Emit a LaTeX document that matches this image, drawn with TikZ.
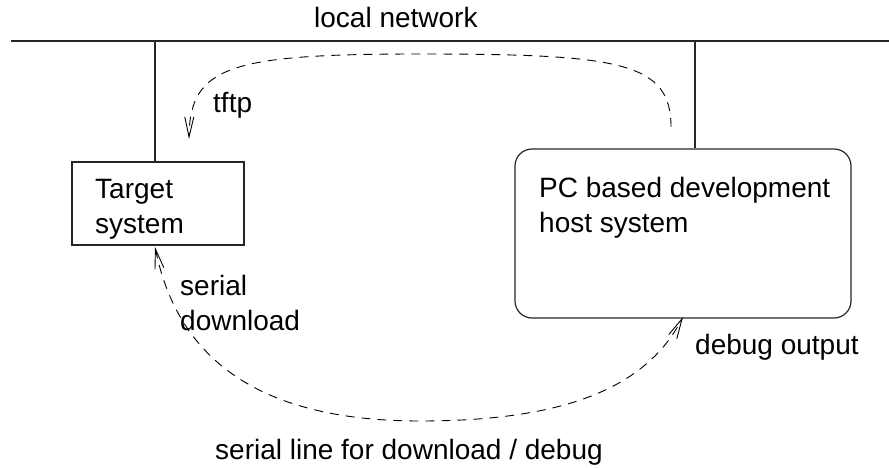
\documentclass[tikz,border=0pt]{standalone}
\usepackage{fontspec}
\setmainfont{Liberation Sans}
\usetikzlibrary{arrows.meta}
\begin{document}
\begin{tikzpicture}[x=1pt,y=-1pt,
  wire/.style={line width=1.2pt, draw=black!85},
  box/.style={draw=black!85, line width=1.2pt, inner sep=0pt},
  flow/.style={line width=0.9pt, dash pattern=on 9pt off 7pt},
  lbl/.style={inner sep=0pt, anchor=base west, font=\fontsize{28}{35}\selectfont, align=left}]
  \useasboundingbox (0,0) rectangle (889,468);

  % local network bus
  \coordinate (netL) at (11,41);
  \coordinate (netR) at (889,41);
  \draw[wire] (netL) -- (netR);
  \node[lbl] (netlbl) at (314,28) {local network};

  % the two systems
  \node[box, minimum width=172pt, minimum height=83pt] (target) at (158,203.5) {};
  \node[box, rounded corners=17pt, minimum width=336pt, minimum height=169pt] (host) at (683,233.5) {};
  % base anchor of a two-line label sits on its last line
  \node[lbl] (targetlbl) at (95,233) {Target\\system};
  \node[lbl] (hostlbl) at (539,232) {PC based development\\host system};

  % taps onto the bus
  \coordinate (tapT) at (155,41);
  \coordinate (tapH) at (695,41);
  \draw[wire] (tapT) -- (tapT |- target.north);
  \draw[wire] (tapH) -- (tapH |- host.north);

  % tftp transfer over the network
  \coordinate (tftpA) at (671,127);
  \coordinate (tftpB) at (189,139);
  \draw[flow, -{Straight Barb[length=20pt,width=9pt,line width=0.9pt]}]
    (tftpA) .. controls (671,62) and (620,54) .. (420,54)
            .. controls (230,54) and (190,66) .. (tftpB);
  \node[lbl] (tftplbl) at (213,113) {tftp};

  % serial line between the boards
  \coordinate (serT) at (155,247);
  \coordinate (serH) at (683,317);
  \draw[flow, {Straight Barb[length=20pt,width=9pt,line width=0.9pt]}-{Straight Barb[length=20pt,width=9pt,line width=0.9pt]}]
    (serT) .. controls (178,360) and (260,421) .. (420,421)
           .. controls (560,421) and (645,390) .. (serH);
  \node[lbl] (serlbl) at (180,330) {serial\\download};
  \node[lbl] (dbglbl) at (695,354) {debug output};
  \node[lbl] (linelbl) at (215,459) {serial line for download / debug};
\end{tikzpicture}
\end{document}
